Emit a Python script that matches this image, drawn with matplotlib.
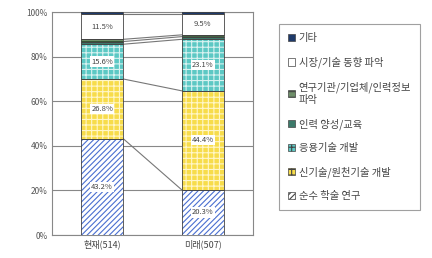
import matplotlib
matplotlib.use("Agg")
import matplotlib.pyplot as plt
from matplotlib.patches import Patch
import numpy as np

plt.rcParams['font.family'] = ['Noto Sans CJK KR', 'DejaVu Sans']
plt.rcParams['hatch.linewidth'] = 0.8

categories = ["현재(514)", "미래(507)"]
series_names = ["순수 학술 연구", "신기술/원천기술 개발", "응용기술 개발", "인력 양성/교육",
                "연구기관/기업체/인력정보\n파악", "시장/기술 동향 파악", "기타"]
values = {
    "순수 학술 연구": [43.2, 20.3],
    "신기술/원천기술 개발": [26.8, 44.4],
    "응용기술 개발": [15.6, 23.1],
    "인력 양성/교육": [1.2, 1.2],
    "연구기관/기업체/인력정보\n파악": [1.0, 0.8],
    "시장/기술 동향 파악": [11.5, 9.5],
    "기타": [0.7, 0.7],
}
labeled = ["순수 학술 연구", "신기술/원천기술 개발", "응용기술 개발", "시장/기술 동향 파악"]
yticks = [0, 20, 40, 60, 80, 100]

styles = {
    "순수 학술 연구": dict(facecolor="#ffffff", hatch="//////", hcolor="#4a6fd0"),
    "신기술/원천기술 개발": dict(facecolor="#f7dc4a", hatch="+++", hcolor="#fff6c8"),
    "응용기술 개발": dict(facecolor="#5cc8c4", hatch="+++", hcolor="#d8f2f0"),
    "인력 양성/교육": dict(facecolor="#3c7a6a", hatch="", hcolor="#3c7a6a"),
    "연구기관/기업체/인력정보\n파악": dict(facecolor="#6f8f6a", hatch="---", hcolor="#2f4f2f"),
    "시장/기술 동향 파악": dict(facecolor="#ffffff", hatch="", hcolor="#ffffff"),
    "기타": dict(facecolor="#1f3a6a", hatch="", hcolor="#1f3a6a"),
}

fig = plt.figure(figsize=(4.32, 2.58), dpi=100)
ax = fig.add_axes([0.120, 0.089, 0.466, 0.864])

x = np.arange(len(categories))
w = 0.42
bottom = np.zeros(len(categories))
cums = []
for name in series_names:
    v = np.array(values[name])
    st = styles[name]
    ax.bar(x, v, w, bottom=bottom, color=st["facecolor"], edgecolor=st["hcolor"],
           hatch=st["hatch"], linewidth=0, zorder=3)
    ax.bar(x, v, w, bottom=bottom, fill=False, edgecolor="#444444", linewidth=0.6, zorder=4)
    if name in labeled:
        for xi, vi, bi in zip(x, v, bottom):
            yc = bi + vi / 2
            ax.text(xi, yc, f"{vi:.1f}%", ha="center", va="center", fontsize=5.5,
                    color="#444444", zorder=6,
                    bbox=dict(boxstyle="square,pad=0.15", fc="white", ec="none"))
    bottom = bottom + v
    cums.append(bottom.copy())

for c in cums[:-1]:
    ax.plot([x[0] + w / 2, x[1] - w / 2], [c[0], c[1]], color="#777777", lw=0.8, zorder=2)

ax.set_xlim(-0.5, 1.5)
ax.set_ylim(0, 100)
ax.set_yticks(yticks)
ax.set_yticklabels([f"{t}%" for t in yticks], fontsize=6, color="#555555")
ax.set_xticks(x)
ax.set_xticklabels(categories, fontsize=6.5, color="#444444")
ax.tick_params(axis="both", length=0, pad=3)
ax.yaxis.grid(True, color="#888888", lw=0.8, zorder=0)
for s in ax.spines.values():
    s.set_color("#888888")
    s.set_linewidth(0.8)

handles = [Patch(facecolor=styles[n]["facecolor"], edgecolor="#444444", hatch=styles[n]["hatch"],
                 linewidth=0.5) for n in series_names[::-1]]
labels_leg = series_names[::-1]
leg = fig.legend(handles, labels_leg, loc="upper left", bbox_to_anchor=(279 / 432, 1 - 24 / 258),
                 fontsize=7.4, frameon=True, fancybox=False, edgecolor="#888888",
                 handlelength=0.7, handleheight=0.7, handletextpad=0.3, labelspacing=1.3,
                 borderpad=0.9, borderaxespad=0)
leg.get_frame().set_linewidth(0.8)
for t in leg.get_texts():
    t.set_color("#444444")

fig.savefig("out.png", dpi=100)
